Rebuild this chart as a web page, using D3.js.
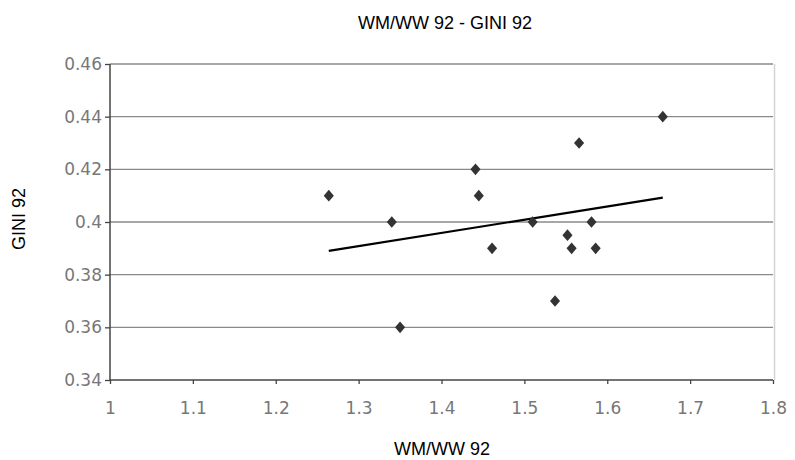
<!DOCTYPE html>
<html>
<head>
<meta charset="utf-8">
<script src="https://cdn.jsdelivr.net/npm/d3@7"></script>
<style>
  html, body { margin: 0; padding: 0; background: #fff; }
  svg { display: block; }
</style>
</head>
<body>
<svg id="chart" width="795" height="460"></svg>
<script>
const chartTitle = "WM/WW 92 - GINI 92";
const xTitle = "WM/WW 92";
const yTitle = "GINI 92";
const wmww92 = [1.264, 1.340, 1.441, 1.445, 1.461, 1.350, 1.667, 1.566, 1.510, 1.581, 1.552, 1.557, 1.586, 1.537];
const gini92 = [0.41, 0.40, 0.42, 0.41, 0.39, 0.36, 0.44, 0.43, 0.40, 0.40, 0.395, 0.39, 0.39, 0.37];
const xTicks = [1, 1.1, 1.2, 1.3, 1.4, 1.5, 1.6, 1.7, 1.8];
const yTicks = [0.34, 0.36, 0.38, 0.40, 0.42, 0.44, 0.46];

const svg = d3.select("#chart");
const m = { left: 110, right: 773, top: 64, bottom: 380 };

const x = d3.scaleLinear().domain([1, 1.8]).range([m.left, m.right]);
const y = d3.scaleLinear().domain([0.34, 0.46]).range([m.bottom, m.top]);

// gridlines
svg.append("g").selectAll("line").data(yTicks.filter(t => t > 0.34)).join("line")
  .attr("x1", m.left).attr("x2", m.right)
  .attr("y1", d => y(d)).attr("y2", d => y(d))
  .attr("stroke", "#8a8a8a").attr("stroke-width", 1.4);

// right border of plot area
svg.append("line").attr("x1", m.right + 1.5).attr("x2", m.right + 1.5)
  .attr("y1", m.top).attr("y2", m.bottom)
  .attr("stroke", "#d4d4d4").attr("stroke-width", 1.5);

// axes
const fmtY = d => d3.format(".2f")(d).replace(/0$/, "");
const yAxis = d3.axisLeft(y).tickValues(yTicks).tickSize(5).tickPadding(3).tickFormat(fmtY);
const xAxis = d3.axisBottom(x).tickValues(xTicks).tickSize(4).tickPadding(18).tickFormat(d3.format("~g"));

const gy = svg.append("g").attr("transform", `translate(${m.left},0)`).call(yAxis);
const gx = svg.append("g").attr("transform", `translate(0,${m.bottom})`).call(xAxis);
[gy, gx].forEach(g => {
  g.select(".domain").attr("stroke", "#444").attr("stroke-width", 1.5);
  g.selectAll(".tick line").attr("stroke", "#444").attr("stroke-width", 1.3);
  g.selectAll(".tick text").attr("fill", "#777")
    .style("font-family", "'DejaVu Sans', Verdana, sans-serif").style("font-size", "17px");
});
gx.select(".domain").attr("d", `M${m.left},0H${m.right}`);
gy.select(".domain").attr("d", `M0,${m.top}V${m.bottom}`);

// trendline (least squares, drawn across the data x range)
const mx = d3.mean(wmww92), my = d3.mean(gini92);
let sxy = 0, sxx = 0;
wmww92.forEach((v, i) => { sxy += (v - mx) * (gini92[i] - my); sxx += (v - mx) * (v - mx); });
const slope = sxy / sxx, icpt = my - slope * mx;
const [xmin, xmax] = d3.extent(wmww92);
svg.append("line")
  .attr("x1", x(xmin)).attr("y1", y(icpt + slope * xmin))
  .attr("x2", x(xmax)).attr("y2", y(icpt + slope * xmax))
  .attr("stroke", "#000").attr("stroke-width", 2.2);

// points (diamonds)
const pts = wmww92.map((v, i) => ({ x: v, y: gini92[i] }));
svg.append("g").selectAll("path").data(pts).join("path")
  .attr("d", d3.symbol(d3.symbolDiamond2, 72))
  .attr("transform", d => `translate(${x(d.x)},${y(d.y)}) scale(0.95,1.1)`)
  .attr("fill", "#333");

// titles
const tf = "'Liberation Sans', Arial, sans-serif";
svg.append("text").attr("x", 445).attr("y", 29).attr("text-anchor", "middle")
  .style("font-family", tf).style("font-size", "18px").attr("fill", "#000").text(chartTitle);
svg.append("text").attr("x", 442).attr("y", 455).attr("text-anchor", "middle")
  .style("font-family", tf).style("font-size", "18px").attr("fill", "#000").text(xTitle);
svg.append("text").attr("transform", "translate(25,219) rotate(-90)").attr("text-anchor", "middle")
  .style("font-family", tf).style("font-size", "18px").attr("fill", "#000").text(yTitle);
</script>
</body>
</html>
